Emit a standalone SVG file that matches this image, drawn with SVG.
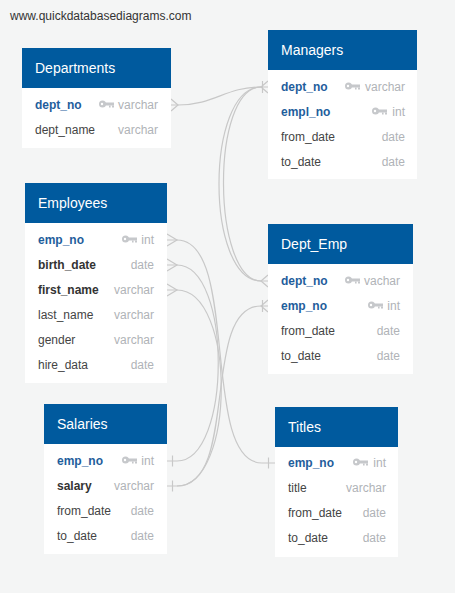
<svg xmlns="http://www.w3.org/2000/svg" width="455" height="593" viewBox="0 0 455 593">
<style>
text{font-family:"Liberation Sans",Arial,sans-serif}
.hdr{fill:#005a9e}
.bd{fill:#ffffff}
.ttl{fill:#ffffff;font-size:14px}
.f{font-size:12px;fill:#444444}
.pk{fill:#1f5e9c;font-weight:bold}
.fk{fill:#333333;font-weight:bold}
.t{font-size:12px;fill:#b0b3b7;text-anchor:end}
.c{fill:none;stroke:#c8c8c8;stroke-width:1.2}
.m{fill:none;stroke:#c8c8c8;stroke-width:1.2}
.wm{font-size:12px;fill:#333333}
</style>
<defs>
<g id="key" fill="#c6c8cb">
<circle cx="3.5" cy="0" r="3.5"/>
<rect x="6" y="-1.5" width="9" height="3"/>
<rect x="10" y="1.5" width="1.6" height="2"/>
<rect x="13" y="1.5" width="2" height="2"/>
<circle cx="3" cy="0" r="1.2" fill="#ffffff"/>
</g>
</defs>
<rect width="455" height="593" fill="#f4f5f5"/>
<text class="wm" x="10" y="20">www.quickdatabasediagrams.com</text>

<g id="connectors">
<path class="c" d="M171,105 H178 C215,105 225,87 261,87 H268"/>
<path class="c" d="M261,87 C205,87 205,281 261,281 H268"/>
<path class="c" d="M261,87 C210,87 212,281 261,281"/>
<path class="c" d="M167,240 H177 C240,240 200,463 262,463 H275"/>
<path class="c" d="M167,265 H177 C232,265 232,461 177,461 H167"/>
<path class="c" d="M167,290 H177 C236,290 236,486 177,486 H167"/>
<path class="c" d="M268,306 H261 C200,306 240,486 177,486"/>
<!-- markers -->
<path class="m" d="M171,99 L178,105 L171,111"/>
<path class="m" d="M167,234 L177,240 L167,246"/>
<path class="m" d="M167,259 L177,265 L167,271"/>
<path class="m" d="M167,284 L177,290 L167,296"/>
<path class="m" d="M268,81 L261,87 L268,93 M262.5,81 V93"/>
<path class="m" d="M268,275 L261,281 L268,287"/>
<path class="m" d="M268,300 L261,306 L268,312 M262.5,300 V312"/>
<path class="m" d="M172.5,455.5 V466.5"/>
<path class="m" d="M172.5,480.5 V491.5"/>
<path class="m" d="M268.5,457.5 V468.5"/>
</g>

<g id="departments">
<rect class="bd" x="22" y="48" width="149" height="100"/>
<rect class="hdr" x="22" y="48" width="149" height="40"/>
<text class="ttl" x="35" y="73">Departments</text>
<text class="f pk" x="35" y="109">dept_no</text>
<use href="#key" x="99" y="104"/>
<text class="t" x="158" y="109">varchar</text>
<text class="f" x="35" y="134">dept_name</text>
<text class="t" x="158" y="134">varchar</text>
</g>

<g id="managers">
<rect class="bd" x="268" y="30" width="149" height="149"/>
<rect class="hdr" x="268" y="30" width="149" height="40"/>
<text class="ttl" x="281" y="55">Managers</text>
<text class="f pk" x="281" y="91">dept_no</text>
<use href="#key" x="345" y="86"/>
<text class="t" x="405" y="91">varchar</text>
<text class="f pk" x="281" y="116">empl_no</text>
<use href="#key" x="372" y="111"/>
<text class="t" x="405" y="116">int</text>
<text class="f" x="281" y="141">from_date</text>
<text class="t" x="405" y="141">date</text>
<text class="f" x="281" y="166">to_date</text>
<text class="t" x="405" y="166">date</text>
</g>

<g id="employees">
<rect class="bd" x="25" y="183" width="142" height="200"/>
<rect class="hdr" x="25" y="183" width="142" height="40"/>
<text class="ttl" x="38" y="208">Employees</text>
<text class="f pk" x="38" y="244">emp_no</text>
<use href="#key" x="122" y="239"/>
<text class="t" x="154" y="244">int</text>
<text class="f fk" x="38" y="269">birth_date</text>
<text class="t" x="154" y="269">date</text>
<text class="f fk" x="38" y="294">first_name</text>
<text class="t" x="154" y="294">varchar</text>
<text class="f" x="38" y="319">last_name</text>
<text class="t" x="154" y="319">varchar</text>
<text class="f" x="38" y="344">gender</text>
<text class="t" x="154" y="344">varchar</text>
<text class="f" x="38" y="369">hire_data</text>
<text class="t" x="154" y="369">date</text>
</g>

<g id="dept_emp">
<rect class="bd" x="268" y="224" width="145" height="150"/>
<rect class="hdr" x="268" y="224" width="145" height="40"/>
<text class="ttl" x="281" y="249">Dept_Emp</text>
<text class="f pk" x="281" y="285">dept_no</text>
<use href="#key" x="345" y="280"/>
<text class="t" x="400" y="285">vachar</text>
<text class="f pk" x="281" y="310">emp_no</text>
<use href="#key" x="368" y="305"/>
<text class="t" x="400" y="310">int</text>
<text class="f" x="281" y="335">from_date</text>
<text class="t" x="400" y="335">date</text>
<text class="f" x="281" y="360">to_date</text>
<text class="t" x="400" y="360">date</text>
</g>

<g id="salaries">
<rect class="bd" x="44" y="404" width="123" height="150"/>
<rect class="hdr" x="44" y="404" width="123" height="40"/>
<text class="ttl" x="57" y="429">Salaries</text>
<text class="f pk" x="57" y="465">emp_no</text>
<use href="#key" x="122" y="460"/>
<text class="t" x="154" y="465">int</text>
<text class="f fk" x="57" y="490">salary</text>
<text class="t" x="154" y="490">varchar</text>
<text class="f" x="57" y="515">from_date</text>
<text class="t" x="154" y="515">date</text>
<text class="f" x="57" y="540">to_date</text>
<text class="t" x="154" y="540">date</text>
</g>

<g id="titles">
<rect class="bd" x="275" y="407" width="123" height="150"/>
<rect class="hdr" x="275" y="407" width="123" height="40"/>
<text class="ttl" x="288" y="432">Titles</text>
<text class="f pk" x="288" y="467">emp_no</text>
<use href="#key" x="353" y="462"/>
<text class="t" x="386" y="467">int</text>
<text class="f" x="288" y="492">title</text>
<text class="t" x="386" y="492">varchar</text>
<text class="f" x="288" y="517">from_date</text>
<text class="t" x="386" y="517">date</text>
<text class="f" x="288" y="542">to_date</text>
<text class="t" x="386" y="542">date</text>
</g>
</svg>
